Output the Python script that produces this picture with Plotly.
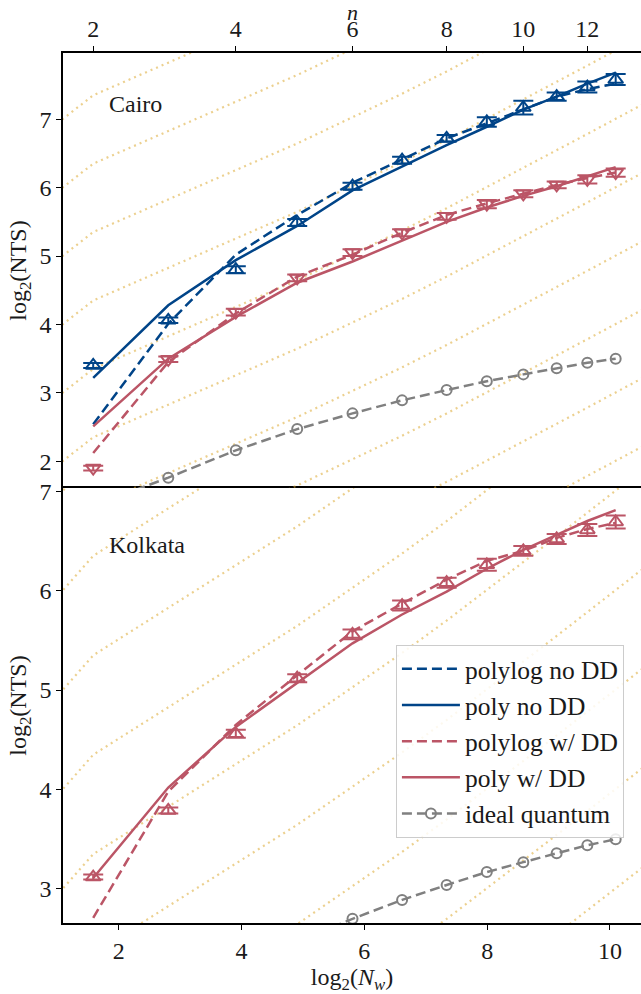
import numpy as np
import plotly.graph_objects as go

# problem size n and the corresponding number of walks N_w
n_values = [2, 3, 4, 5, 6, 7, 8, 9, 10, 11, 12, 13]
n_walks = [3, 7, 15, 30, 56, 98, 162, 255, 385, 561, 793, 1092]

# top axis labels (n)
n_top_ticks = [2, 4, 6, 8, 10, 12]

# Cairo, no dynamical decoupling
cairo_nodd = [3.40, 4.06, 4.80, 5.49, 6.02, 6.40, 6.72, 6.96, 7.17, 7.33, 7.47, 7.58]
cairo_nodd_err = [0.035, 0.04, 0.05, 0.05, 0.05, 0.05, 0.05, 0.07, 0.10, 0.06, 0.08, 0.08]
cairo_nodd_polylog = [2.54, 4.01, 5.02, 5.60, 6.07, 6.41, 6.72, 6.94, 7.14, 7.33, 7.44, 7.52]
cairo_nodd_poly = [3.22, 4.28, 4.94, 5.44, 5.96, 6.31, 6.62, 6.89, 7.14, 7.33, 7.52, 7.68]

# Cairo, with dynamical decoupling
cairo_dd = [1.90, 3.49, 4.18, 4.68, 5.05, 5.34, 5.58, 5.76, 5.91, 6.04, 6.12, 6.22]
cairo_dd_err = [0.035, 0.04, 0.05, 0.05, 0.05, 0.05, 0.05, 0.06, 0.05, 0.05, 0.06, 0.06]
cairo_dd_polylog = [2.12, 3.45, 4.16, 4.70, 5.02, 5.34, 5.60, 5.77, 5.91, 6.04, 6.14, 6.22]
cairo_dd_poly = [2.51, 3.50, 4.11, 4.61, 4.92, 5.22, 5.50, 5.71, 5.88, 6.02, 6.16, 6.30]

# Kolkata, with dynamical decoupling
kolkata_dd = [3.12, 3.79, 4.56, 5.12, 5.56, 5.85, 6.08, 6.26, 6.40, 6.52, 6.61, 6.69]
kolkata_dd_err = [0.025, 0.03, 0.04, 0.04, 0.05, 0.05, 0.05, 0.06, 0.05, 0.05, 0.06, 0.065]
kolkata_dd_polylog = [2.71, 3.98, 4.65, 5.15, 5.59, 5.87, 6.11, 6.30, 6.40, 6.53, 6.62, 6.68]
kolkata_dd_poly = [3.11, 4.02, 4.63, 5.07, 5.47, 5.76, 5.99, 6.22, 6.41, 6.56, 6.70, 6.81]

# ideal quantum reference
ideal_quantum = [1.35, 1.76, 2.16, 2.47, 2.70, 2.89, 3.04, 3.17, 3.27, 3.36, 3.44, 3.50]

# background guide curves: one common shape, shifted by whole log2 steps
guide_walks = [1, 3, 7, 15, 30, 56, 98, 162, 255, 385, 561, 793, 1092, 1470]
guide_shape = [-1.11, 0.0, 0.477, 0.906, 1.296, 1.679, 2.023, 2.349, 2.656, 2.936,
               3.194, 3.434, 3.656, 3.862]
guide_offsets = [-3.65, -2.65, -1.65, -0.65, 0.35, 1.35, 2.35, 3.35, 4.35, 5.35, 6.35, 7.35]

BLUE = "#004488"
RED = "#BB5566"
GOLD = "rgba(221,170,51,0.55)"
GRAY = "#808080"
FONT = "Liberation Serif"
TXT = "#1a1a1a"

x = np.log2(n_walks)
x_guide = np.log2(guide_walks)
top_tickvals = [float(np.log2(n_walks[n_values.index(k)])) for k in n_top_ticks]

fig = go.Figure()

# guide curves in both panels
for xa, ya in (("x2", "y"), ("x", "y2")):
    for c in guide_offsets:
        fig.add_trace(go.Scatter(
            x=x_guide, y=np.array(guide_shape) + c, mode="lines",
            line=dict(color=GOLD, width=2.2, dash="2px,4px"),
            xaxis=xa, yaxis=ya, showlegend=False, hoverinfo="skip"))


def fit_line(xv, yv, color, dash, name, xa, ya, legend):
    fig.add_trace(go.Scatter(
        x=xv, y=yv, mode="lines", name=name,
        line=dict(color=color, width=2.5, dash=dash),
        xaxis=xa, yaxis=ya, showlegend=legend))


def data_points(xv, yv, err, color, symbol, xa, ya):
    fig.add_trace(go.Scatter(
        x=xv, y=yv, mode="markers",
        marker=dict(symbol=symbol, size=13, color=color,
                    line=dict(color=color, width=2)),
        error_y=dict(type="data", array=err, color=color, thickness=2, width=10),
        xaxis=xa, yaxis=ya, showlegend=False))


DASH = "10px,5px"

# Cairo panel
fit_line(x, cairo_nodd_polylog, BLUE, DASH, "polylog no DD", "x2", "y", True)
fit_line(x, cairo_nodd_poly, BLUE, "solid", "poly no DD", "x2", "y", True)
fit_line(x, cairo_dd_polylog, RED, DASH, "polylog w/ DD", "x2", "y", True)
fit_line(x, cairo_dd_poly, RED, "solid", "poly w/ DD", "x2", "y", True)
fig.add_trace(go.Scatter(
    x=x, y=ideal_quantum, mode="lines+markers", name="ideal quantum",
    line=dict(color=GRAY, width=2.5, dash=DASH),
    marker=dict(symbol="circle-open", size=10, color=GRAY, line=dict(width=2)),
    xaxis="x2", yaxis="y", showlegend=True))
data_points(x, cairo_nodd, cairo_nodd_err, BLUE, "triangle-up-open", "x2", "y")
data_points(x, cairo_dd, cairo_dd_err, RED, "triangle-down-open", "x2", "y")

# Kolkata panel
fit_line(x, kolkata_dd_polylog, RED, DASH, "polylog w/ DD", "x", "y2", False)
fit_line(x, kolkata_dd_poly, RED, "solid", "poly w/ DD", "x", "y2", False)
fig.add_trace(go.Scatter(
    x=x, y=ideal_quantum, mode="lines+markers", name="ideal quantum",
    line=dict(color=GRAY, width=2.5, dash=DASH),
    marker=dict(symbol="circle-open", size=10, color=GRAY, line=dict(width=2)),
    xaxis="x", yaxis="y2", showlegend=False))
data_points(x, kolkata_dd, kolkata_dd_err, RED, "triangle-up-open", "x", "y2")

XR = [1.093, 10.505]
axis_common = dict(showgrid=False, zeroline=False, showline=True, linecolor="black",
                   linewidth=1.5, ticks="outside", ticklen=5, tickwidth=1.3,
                   tickcolor="black", automargin=False,
                   tickfont=dict(family=FONT, size=24, color=TXT))

fig.update_layout(
    width=641, height=994,
    margin=dict(l=63, r=0, t=53, b=71),
    paper_bgcolor="white", plot_bgcolor="white",
    font=dict(family=FONT, size=24, color=TXT),
    xaxis=dict(domain=[0, 1], anchor="y2", range=XR, tickvals=[2, 4, 6, 8, 10],
               mirror=True,
               title=dict(text="log<sub>2</sub>(<i>N</i><sub><i>w</i></sub>)",
                          font=dict(family=FONT, size=24, color=TXT), standoff=10),
               **axis_common),
    xaxis2=dict(matches="x", anchor="y", side="top", range=XR,
                tickvals=top_tickvals, ticktext=[str(k) for k in n_top_ticks],
                **axis_common),
    yaxis=dict(domain=[0.5, 1], anchor="x2", range=[1.609, 7.968],
               tickvals=[2, 3, 4, 5, 6, 7],
               title=dict(text="log<sub>2</sub>(NTS)", font=dict(family=FONT, size=24, color=TXT),
                          standoff=6),
               **axis_common),
    yaxis2=dict(domain=[0, 0.5], anchor="x", range=[2.658, 7.032],
                tickvals=[3, 4, 5, 6, 7],
                title=dict(text="log<sub>2</sub>(NTS)", font=dict(family=FONT, size=24, color=TXT),
                           standoff=6),
                **axis_common),
    legend=dict(x=0.576, y=0.3198, xanchor="left", yanchor="top",
                bgcolor="rgba(255,255,255,0.85)", bordercolor="#cccccc", borderwidth=1,
                font=dict(family=FONT, size=25.5, color=TXT), itemwidth=58,
                tracegroupgap=0),
    annotations=[
        # label of the top (n) axis
        dict(text="<i>n</i>", x=0.5, y=1.0465, xref="paper", yref="paper",
             xanchor="center", yanchor="middle", showarrow=False,
             font=dict(family=FONT, size=22, color=TXT)),
        dict(text="Cairo", x=0.076, y=0.9414, xref="paper", yref="paper",
             xanchor="left", yanchor="middle", showarrow=False,
             font=dict(family=FONT, size=24, color=TXT)),
        dict(text="Kolkata", x=0.076, y=0.4347, xref="paper", yref="paper",
             xanchor="left", yanchor="middle", showarrow=False,
             font=dict(family=FONT, size=24, color=TXT)),
    ],
)

fig.write_html("out.html")
